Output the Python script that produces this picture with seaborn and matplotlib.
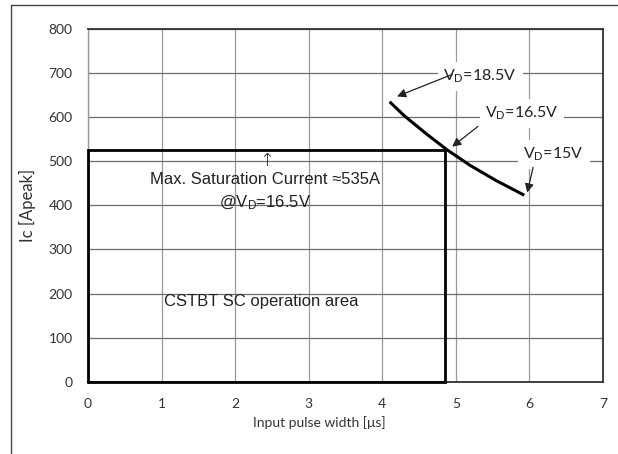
import matplotlib
matplotlib.use("Agg")
import matplotlib.pyplot as plt
from matplotlib.lines import Line2D
import seaborn as sns
import pandas as pd

# Short-circuit withstand boundary (Ic vs. input pulse width)
pulse_width_us = [4.10, 4.30, 4.60, 4.88, 5.20, 5.55, 5.93]
ic_peak_a = [635, 603, 562, 526, 490, 456, 423]

# Guaranteed SC operation area (rectangle from origin)
area_width_us = 4.85
area_height_a = 525

x_ticks = [0, 1, 2, 3, 4, 5, 6, 7]
y_ticks = [0, 100, 200, 300, 400, 500, 600, 700, 800]

# Gate-voltage callouts: label, text position, arrow tail, arrow tip
vd_labels = ["V$_{\\mathregular{D}}$=18.5V", "V$_{\\mathregular{D}}$=16.5V", "V$_{\\mathregular{D}}$=15V"]
vd_text_x = [5.33, 5.90, 6.33]
vd_text_y = [692, 608, 515]
vd_tail_x = [4.95, 5.30, 6.05]
vd_tail_y = [697, 579, 486]
vd_tip_x = [4.20, 4.95, 5.97]
vd_tip_y = [647, 533, 429]

sns.set_theme(style="whitegrid")
plt.rcParams["font.family"] = ["Lato", "DejaVu Sans"]
plt.rcParams["mathtext.fontset"] = "custom"
plt.rcParams["mathtext.rm"] = "Lato"
plt.rcParams["mathtext.sf"] = "Liberation Sans"

fig = plt.figure(figsize=(6.18, 4.54), dpi=100)
fig.patch.set_facecolor("white")
ax = fig.add_axes([88 / 618, 1 - 381.7 / 454, (603 - 88) / 618, (381.7 - 29) / 454])
ax.set_facecolor("white")

ax.set_xlim(x_ticks[0], x_ticks[-1])
ax.set_ylim(y_ticks[0], y_ticks[-1])
ax.set_xticks(x_ticks)
ax.set_yticks(y_ticks)
ax.tick_params(axis="both", length=0, labelsize=10, colors="#333333")
ax.tick_params(axis="x", pad=12)
ax.tick_params(axis="y", pad=11)
ax.grid(True, axis="y", color="#6e6e6e", linewidth=0.9)
ax.grid(True, axis="x", color="#9a9a9a", linewidth=0.9)

for side in ["top", "right", "bottom"]:
    ax.spines[side].set_visible(True)
    ax.spines[side].set_color("#333333")
    ax.spines[side].set_linewidth(1.3)
ax.spines["left"].set_color("#999999")
ax.spines["left"].set_linewidth(1.0)

# SC operation area outline
rx = [0, 0, area_width_us, area_width_us, 0]
ry = [0, area_height_a, area_height_a, 0, 0]
ax.plot(rx, ry, color="black", linewidth=2.0, solid_joinstyle="miter", zorder=4, clip_on=False)

# Boundary curve
df = pd.DataFrame({"width": pulse_width_us, "ic": ic_peak_a})
sns.lineplot(data=df, x="width", y="ic", ax=ax, color="black", linewidth=2.2,
             sort=True, zorder=5, solid_joinstyle="round", solid_capstyle="butt")

ax.set_xlabel("")
ax.set_ylabel("Ic [Apeak]", fontsize=12, labelpad=9, color="#333333")

# Callouts
for lab, tx, ty, ax0, ay0, hx, hy in zip(vd_labels, vd_text_x, vd_text_y,
                                          vd_tail_x, vd_tail_y, vd_tip_x, vd_tip_y):
    ax.text(tx, ty, lab, fontsize=11.5, ha="center", va="center", color="#222222",
            bbox=dict(boxstyle="square,pad=0.35", facecolor="white", edgecolor="none"),
            zorder=6)
    ax.annotate("", xy=(hx, hy), xytext=(ax0, ay0),
                arrowprops=dict(arrowstyle="-|>", color="#222222", lw=0.9,
                                mutation_scale=13, shrinkA=0, shrinkB=0),
                zorder=7)

arial = ["Liberation Sans", "DejaVu Sans"]
ax.text(2.43, 500, "\u2191", fontsize=13, ha="center", va="center",
        family=["DejaVu Sans"], color="#222222", fontweight="light")
ax.text(2.41, 458, "Max. Saturation Current \u2248535A", fontsize=12, ha="center",
        va="center", family=arial, color="#222222")
ax.text(2.41, 406, "@$\\mathsf{V_{D}}$=16.5V", fontsize=12, ha="center",
        va="center", family=arial, color="#222222")
ax.text(2.36, 181, "CSTBT SC operation area", fontsize=12, ha="center",
        va="center", family=arial, color="#222222")

fig.text(319 / 618, 1 - 423 / 454, "Input pulse width [\u03bcs]", fontsize=10,
         ha="center", va="center", color="#333333")

# Outer frame lines
fig.add_artist(Line2D([10.5 / 618, 1.0], [1 - 5 / 454, 1 - 5 / 454],
                      transform=fig.transFigure, color="#444444", linewidth=1.0))
fig.add_artist(Line2D([10.5 / 618, 10.5 / 618], [0.0, 1 - 5 / 454],
                      transform=fig.transFigure, color="#444444", linewidth=1.0))

fig.savefig("out.png", dpi=100, facecolor="white")
